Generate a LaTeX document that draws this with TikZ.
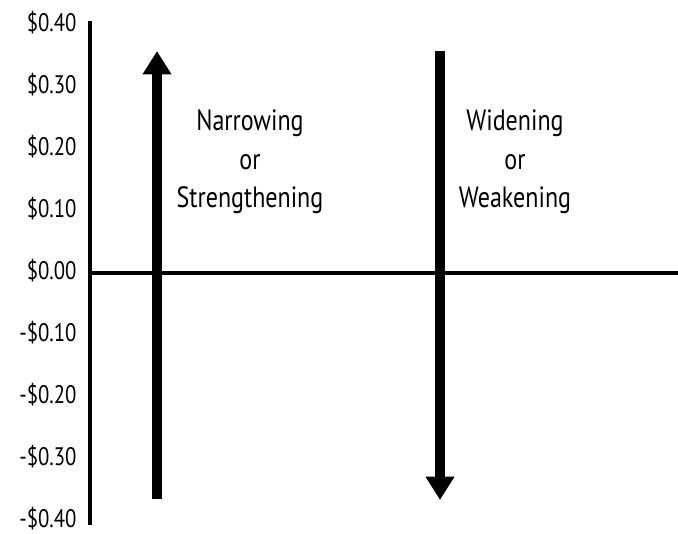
\documentclass[tikz,border=0pt]{standalone}
\usepackage{fontspec}
\setmainfont{PT Sans}[FakeStretch=0.82]
\usetikzlibrary{arrows.meta}
\tikzset{every picture/.style={line width=0.75pt}}
\tikzset{
  axisline/.style={line width=3pt, line cap=butt},
  bigarrow/.style={line width=7.5pt, -{Triangle[width=20.5pt,length=17.5pt]}},
  ticklabel/.style={anchor=east, inner sep=0.75pt, font=\fontsize{19}{23}\selectfont},
  sidetext/.style={align=center, inner sep=0.75pt, font=\fontsize{22}{29}\selectfont}
}

\begin{document}
\begin{tikzpicture}[x=0.75pt,y=0.75pt,yscale=-1,xscale=1]
\useasboundingbox (0,0) rectangle (678,533);

%Axis ends
\coordinate (ytop) at (90,21);
\coordinate (ybot) at (90,525);
\coordinate (zero) at (90,273);
\coordinate (xend) at (678,273);
%Arrow ends
\coordinate (upfrom) at (157,499);
\coordinate (upto) at (157,51);
\coordinate (downfrom) at (440,51);
\coordinate (downto) at (440,500);

%Straight Lines (axes)
\draw [axisline] (ytop) -- (ybot) ;
\draw [axisline, line width=3.6pt] (zero) -- (xend) ;

%Arrows
\draw [bigarrow] (upfrom) -- (upto) ;
\draw [bigarrow] (downfrom) -- (downto) ;

% Tick labels
\foreach \v [count=\i from 0] in {\$0.40,\$0.30,\$0.20,\$0.10,\$0.00,-\$0.10,-\$0.20,-\$0.30,-\$0.40}
  \node (tick\i) [ticklabel] at (78,22.5+62*\i) {\v};

% Text Node
\node (narrow) [sidetext] at (250,162) {Narrowing\\or\\Strengthening};
% Text Node
\node (widen) [sidetext] at (515,162) {Widening\\or\\Weakening};

\end{tikzpicture}
\end{document}
